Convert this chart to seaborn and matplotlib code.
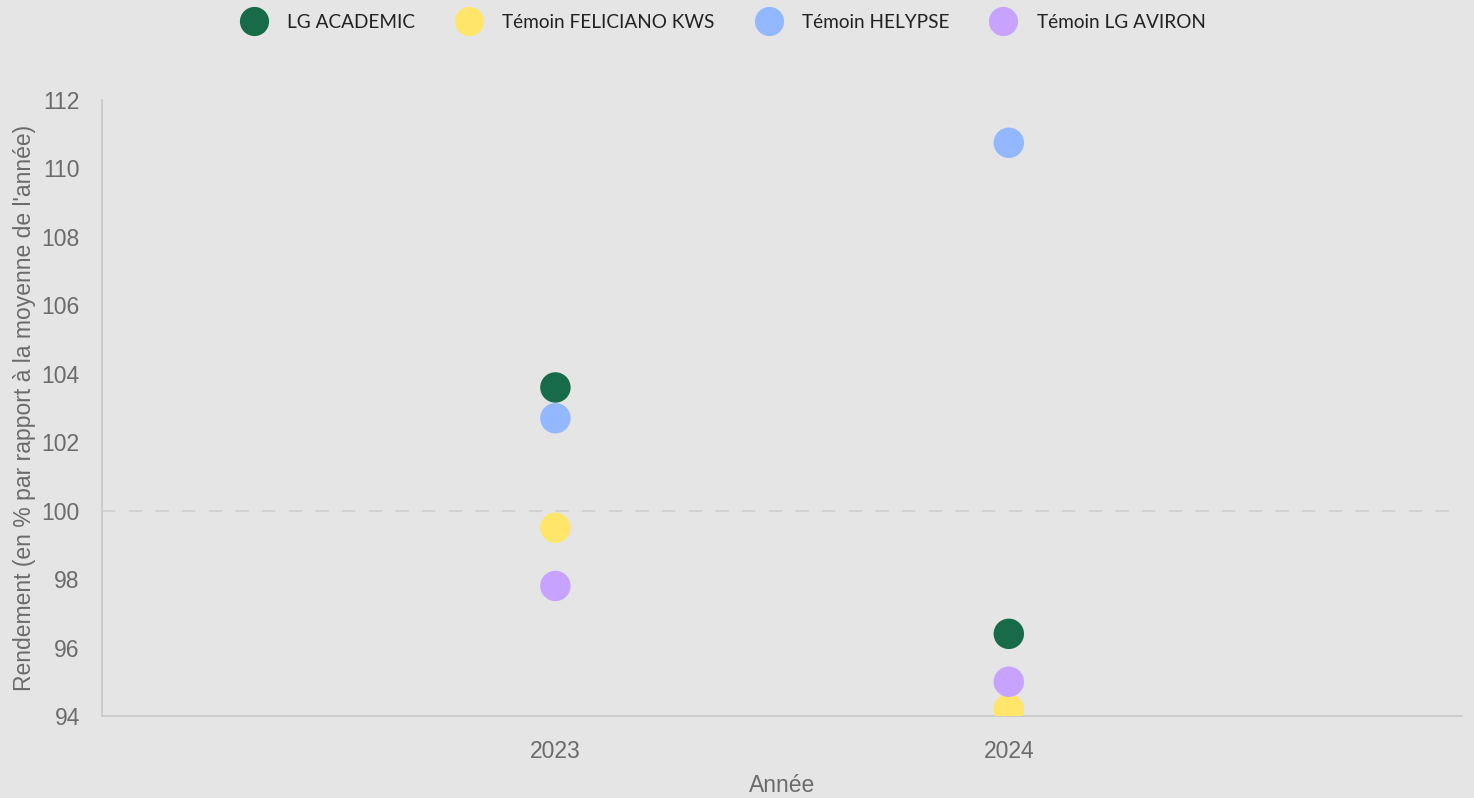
import pandas as pd
import seaborn as sns
import matplotlib.pyplot as plt
from matplotlib.lines import Line2D

# data
years = [2023, 2024]
varieties = ['LG ACADEMIC', 'Témoin FELICIANO KWS', 'Témoin HELYPSE', 'Témoin LG AVIRON']
academic = [103.6, 96.4]
feliciano = [99.5, 94.2]
helypse = [102.7, 110.75]
aviron = [97.8, 95.0]
colors = ['#176b48', '#ffe56a', '#94b8ff', '#c7a3ff']

rows = []
for name, vals in zip(varieties, [academic, feliciano, helypse, aviron]):
    for y, v in zip(years, vals):
        rows.append({'year': y, 'value': v, 'variety': name})
df = pd.DataFrame(rows)

sns.set_theme(style='white')
plt.rcParams['font.family'] = ['Liberation Sans', 'DejaVu Sans']

fig = plt.figure(figsize=(14.74, 7.98), dpi=100, facecolor='#e5e5e5')
ax = fig.add_axes([0.0692, 0.1028, 0.9228, 0.7719])
ax.set_facecolor('#e5e5e5')

# reference line at 100
ax.axhline(100, color='#cdcdcd', lw=1.2, ls=(0, (8, 8)), zorder=1)

sns.scatterplot(data=df, x='year', y='value', hue='variety', hue_order=varieties,
                palette=colors, s=480, edgecolor='none', legend=False, ax=ax, zorder=3)

ax.set_xlim(2022, 2025)
ax.set_ylim(94, 112)
ax.set_xticks(years)
ax.set_xticklabels([str(y) for y in years])
ax.set_yticks(range(94, 113, 2))

for side in ['top', 'right']:
    ax.spines[side].set_visible(False)
for side in ['left', 'bottom']:
    ax.spines[side].set_color('#c8c8c8')
    ax.spines[side].set_linewidth(1.2)

ax.tick_params(axis='both', length=0, labelsize=16.5, labelcolor='#6b6b6b')
ax.tick_params(axis='y', pad=16)
ax.tick_params(axis='x', pad=17)

ax.set_xlabel('Année', fontsize=16.5, color='#6b6b6b', labelpad=8)
ax.set_ylabel("Rendement (en % par rapport à la moyenne de l'année)", fontsize=16.5,
              color='#6b6b6b', labelpad=4)

# legend on top
handles = [Line2D([], [], marker='o', ls='', markersize=21, markerfacecolor=c,
                  markeredgecolor='none') for c in colors]
fig.legend(handles, varieties, loc='upper center', bbox_to_anchor=(0.4885, 1.004),
           ncol=4, frameon=False, prop={'family': 'Lato', 'size': 13.7},
           handletextpad=0.75, columnspacing=1.84, labelcolor='#222222')

fig.savefig('out.png', dpi=100, facecolor=fig.get_facecolor())
